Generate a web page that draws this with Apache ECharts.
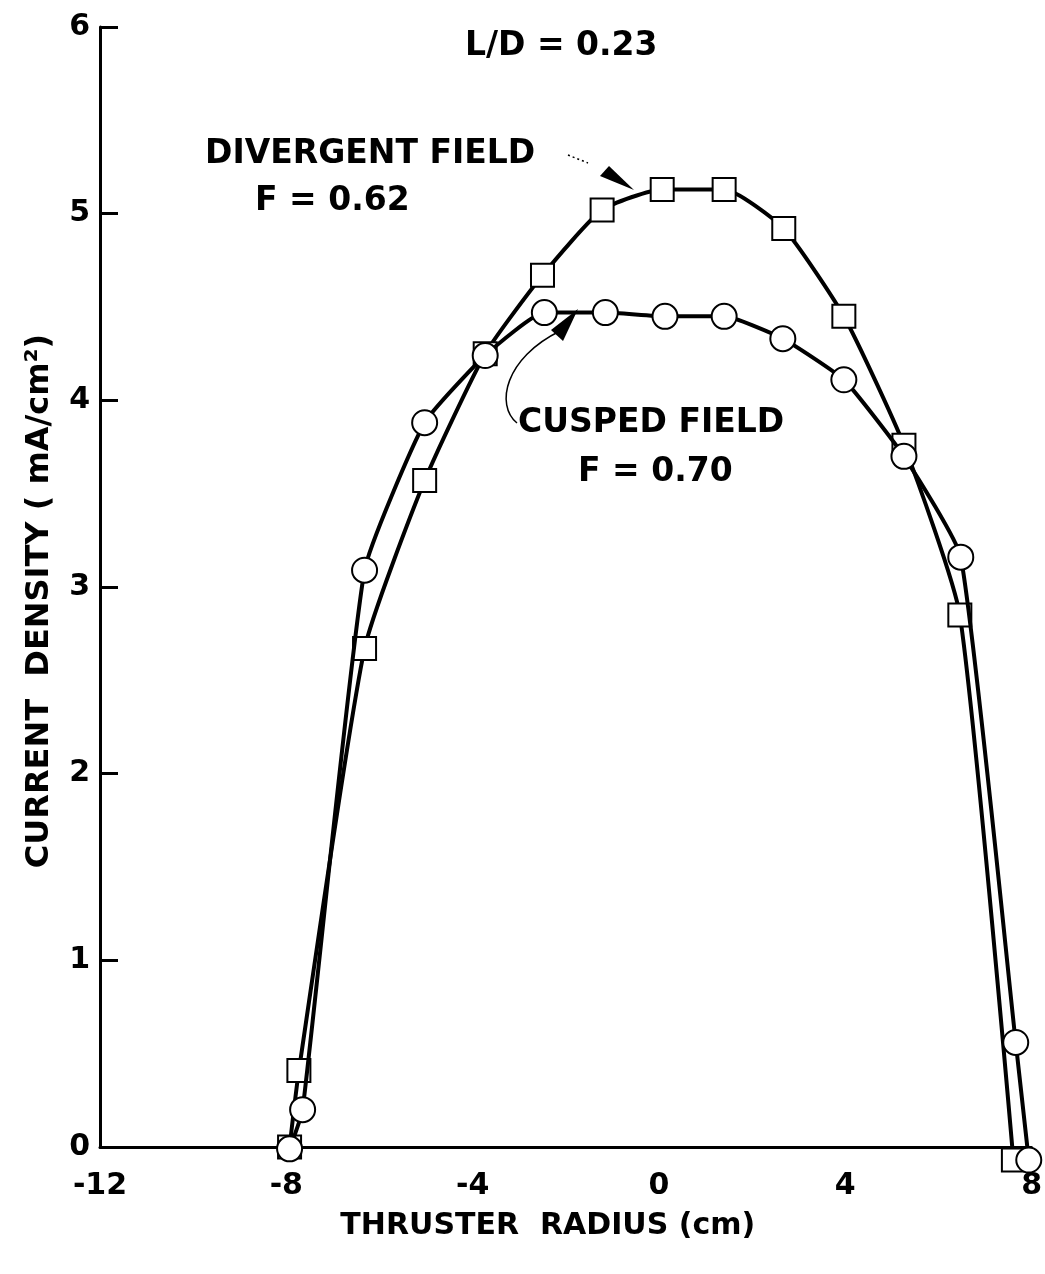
<!DOCTYPE html>
<html>
<head>
<meta charset="utf-8">
<script src="https://cdn.jsdelivr.net/npm/echarts@6/dist/echarts.min.js"></script>
<style>
html,body{margin:0;padding:0;background:#fff;}
#chart{width:1045px;height:1274px;}
</style>
</head>
<body>
<div id="chart"></div>
<script>
// Data
const xTicks = [-12, -8, -4, 0, 4, 8];
const yTicks = [0, 1, 2, 3, 4, 5, 6];

const divergentX = [-7.93, -7.73, -6.32, -5.03, -3.73, -2.50, -1.22, 0.07, 1.40, 2.68, 3.97, 5.26, 6.46, 7.61];
const divergentY = [0.00, 0.41, 2.67, 3.57, 4.25, 4.67, 5.02, 5.13, 5.13, 4.92, 4.45, 3.76, 2.85, -0.07];

const cuspedX = [-7.93, -7.65, -6.32, -5.03, -3.73, -2.46, -1.15, 0.13, 1.40, 2.66, 3.97, 5.26, 6.48, 7.66, 7.94];
const cuspedY = [-0.01, 0.20, 3.09, 3.88, 4.24, 4.47, 4.47, 4.45, 4.45, 4.33, 4.11, 3.70, 3.16, 0.56, -0.07];

const FONT = 'DejaVu Sans';
const pair = (xs, ys) => xs.map((x, i) => [x, ys[i]]);
const ann = 'bold 33px "DejaVu Sans"';

const chart = echarts.init(document.getElementById('chart'), null, {renderer: 'canvas'});
chart.setOption({
  animation: false,
  backgroundColor: '#fff',
  grid: {left: 100, right: 12, top: 27, bottom: 127, containLabel: false},
  xAxis: {
    type: 'value', min: -12, max: 8, interval: 4,
    axisLine: {show: true, onZero: false, lineStyle: {color: '#000', width: 3}},
    axisTick: {show: false},
    splitLine: {show: false},
    axisLabel: {color: '#000', fontFamily: FONT, fontWeight: 'bold', fontSize: 30, margin: 24,
      formatter: v => (xTicks.includes(v) ? String(v) : '')},
    name: 'THRUSTER  RADIUS (cm)', nameLocation: 'middle', nameGap: 64,
    nameTextStyle: {color: '#000', fontFamily: FONT, fontWeight: 'bold', fontSize: 30, padding: [0, 36, 0, 0]}
  },
  yAxis: {
    type: 'value', min: 0, max: 6, interval: 1,
    axisLine: {show: true, onZero: false, lineStyle: {color: '#000', width: 3}},
    axisTick: {show: true, inside: true, length: 18, lineStyle: {color: '#000', width: 3}},
    splitLine: {show: false},
    axisLabel: {color: '#000', fontFamily: FONT, fontWeight: 'bold', fontSize: 30, margin: 10,
      formatter: v => (yTicks.includes(v) ? String(v) : '')},
    name: 'CURRENT  DENSITY ( mA/cm\u00B2)', nameLocation: 'middle', nameGap: 44, nameRotate: 90,
    nameTextStyle: {color: '#000', fontFamily: FONT, fontWeight: 'bold', fontSize: 32, padding: [0, 28, 0, 0]}
  },
  series: [
    {
      name: 'Divergent field', type: 'line', data: pair(divergentX, divergentY),
      smooth: 0.18, symbol: 'rect', symbolSize: 23, clip: false,
      lineStyle: {color: '#000', width: 4},
      itemStyle: {color: '#fff', borderColor: '#000', borderWidth: 2}, z: 3
    },
    {
      name: 'Cusped field', type: 'line', data: pair(cuspedX, cuspedY),
      smooth: 0.15, symbol: 'circle', symbolSize: 25, clip: false,
      lineStyle: {color: '#000', width: 4},
      itemStyle: {color: '#fff', borderColor: '#000', borderWidth: 2}, z: 4
    }
  ],
  graphic: [
    {type: 'text', left: 465, top: 30, style: {text: 'L/D = 0.23', fill: '#000', font: ann}},
    {type: 'text', left: 205, top: 138, style: {text: 'DIVERGENT FIELD', fill: '#000', font: ann}},
    {type: 'text', left: 255, top: 185, style: {text: 'F = 0.62', fill: '#000', font: ann}},
    {type: 'text', left: 518, top: 407, style: {text: 'CUSPED FIELD', fill: '#000', font: ann}},
    {type: 'text', left: 578, top: 456, style: {text: 'F = 0.70', fill: '#000', font: ann}},
    // divergent arrow: dotted tail + wedge head
    {type: 'line', shape: {x1: 568, y1: 155, x2: 588, y2: 163}, style: {stroke: '#000', lineWidth: 1.5, lineDash: [2, 3]}},
    {type: 'polygon', shape: {points: [[600, 176], [609, 166], [634, 190]]}, style: {fill: '#000'}},
    // cusped arrow: thin curve + head
    {type: 'bezierCurve', shape: {x1: 517, y1: 423, cpx1: 495, cpy1: 405, cpx2: 505, cpy2: 358, x2: 560, y2: 331},
      style: {stroke: '#000', lineWidth: 1.5, fill: null}},
    {type: 'polygon', shape: {points: [[578, 309], [551, 330], [563, 341]]}, style: {fill: '#000'}}
  ]
});
</script>
</body>
</html>
